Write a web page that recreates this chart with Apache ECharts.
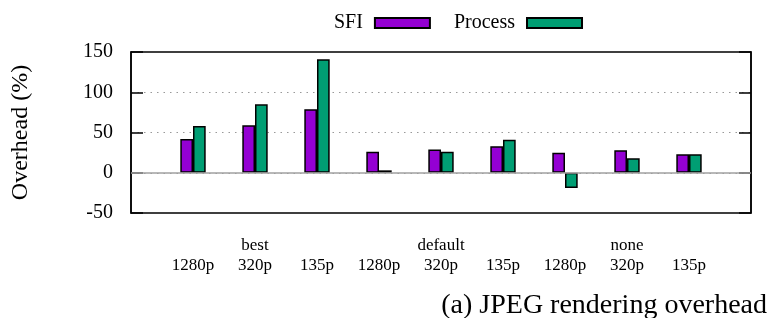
<!DOCTYPE html>
<html>
<head>
<meta charset="utf-8">
<script src="https://cdn.jsdelivr.net/npm/echarts@6/dist/echarts.min.js"></script>
<style>
  html, body { margin: 0; padding: 0; background: #fff; }
  #chart { width: 773px; height: 318px; }
</style>
</head>
<body>
<div id="chart"></div>
<script>
// resolutions, grouped by preset (the preset name sits over the middle bar pair)
var resolutions = ['1280p', '320p', '135p', '1280p', '320p', '135p', '1280p', '320p', '135p'];
var presets = ['best', 'default', 'none'];
var sfiValues = [42, 59, 79, 26, 29, 33, 25, 28, 23];
var processValues = [58, 85, 141, 3, 26, 41, -19, 18, 23];
var yTicks = [-50, 0, 50, 100, 150];

var serif = 'Liberation Serif';

// empty slot at each end so the groups sit at 1..9 on a 0..10 scale
var categories = [''].concat(resolutions.map(function (r, i) {
    return (i % 3 === 1 ? presets[(i - 1) / 3] : '') + '\n' + r;
})).concat(['']);
var pad = function (arr) { return [null].concat(arr).concat([null]); };

var yMin = yTicks[0], yMax = yTicks[yTicks.length - 1];

var option = {
    animation: false,
    title: {
        text: '(a) JPEG rendering overhead',
        right: 6,
        top: 292,
        padding: 0,
        textStyle: { fontFamily: serif, fontSize: 28, fontWeight: 'normal', color: '#000' }
    },
    legend: {
        data: ['SFI', 'Process'],
        left: 329,
        top: 8,
        align: 'right',
        icon: 'rect',
        itemWidth: 55,
        itemHeight: 10,
        itemGap: 23,
        textStyle: { fontFamily: serif, fontSize: 20, color: '#000', padding: [0, 7, 0, 0] }
    },
    grid: {
        left: 131,
        right: 22,
        top: 52,
        bottom: 105,
        show: true,
        borderColor: '#000',
        borderWidth: 1.5
    },
    xAxis: {
        type: 'category',
        data: categories,
        boundaryGap: false,
        axisLine: { show: false },
        axisTick: { show: false },
        axisLabel: {
            interval: 0,
            margin: 23,
            fontFamily: serif,
            fontSize: 17,
            lineHeight: 20,
            color: '#000'
        },
        splitLine: { show: false }
    },
    yAxis: [{
        type: 'value',
        min: yMin,
        max: yMax,
        interval: 50,
        name: 'Overhead (%)',
        nameLocation: 'middle',
        nameGap: 98,
        nameTextStyle: { fontFamily: serif, fontSize: 24, color: '#000' },
        axisLine: { show: true, lineStyle: { color: '#000', width: 1.5 } },
        axisTick: { show: true, inside: true, length: 12, lineStyle: { color: '#000', width: 1.5 } },
        axisLabel: { margin: 18, fontFamily: serif, fontSize: 20, color: '#000' },
        splitLine: {
            show: true,
            showMinLine: false,
            showMaxLine: false,
            lineStyle: { color: '#999', width: 1, type: [1.5, 5] }
        }
    }, {
        type: 'value',
        position: 'right',
        min: yMin,
        max: yMax,
        interval: 50,
        axisLine: { show: true, lineStyle: { color: '#000', width: 1.5 } },
        axisTick: { show: true, inside: true, length: 12, lineStyle: { color: '#000', width: 1.5 } },
        axisLabel: { show: false },
        splitLine: { show: false }
    }],
    series: [{
        // zero line, kept under the bars
        name: 'zero',
        type: 'line',
        data: [],
        z: 1,
        markLine: {
            silent: true,
            symbol: 'none',
            label: { show: false },
            lineStyle: { color: '#a0a0a0', width: 1.5, type: 'solid' },
            data: [{ yAxis: 0 }]
        }
    }, {
        name: 'SFI',
        type: 'bar',
        data: pad(sfiValues),
        barWidth: 12.7,
        barGap: '0%',
        itemStyle: { color: '#9400d3', borderColor: '#000', borderWidth: 1.5 }
    }, {
        name: 'Process',
        type: 'bar',
        data: pad(processValues),
        barWidth: 12.7,
        barGap: '0%',
        itemStyle: { color: '#009e73', borderColor: '#000', borderWidth: 1.5 }
    }]
};

var myChart = echarts.init(document.getElementById('chart'));
myChart.setOption(option);
</script>
</body>
</html>
